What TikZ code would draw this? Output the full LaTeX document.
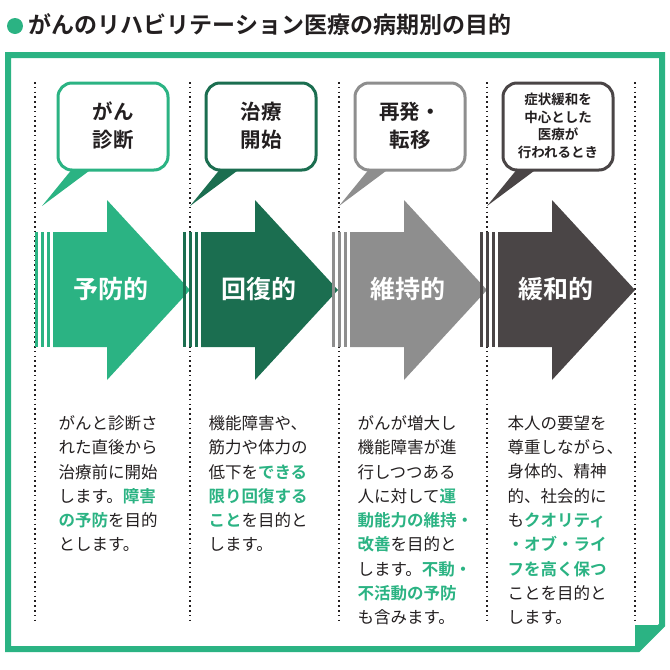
\documentclass[tikz,border=0pt]{standalone}
\usepackage{fontspec}
\setmainfont{Noto Sans CJK JP}
\newfontfamily\jpb{Noto Sans CJK JP Bold}
\newfontfamily\jp{Noto Sans CJK JP}
\definecolor{gA}{HTML}{2BB383}
\definecolor{gB}{HTML}{1B6E50}
\definecolor{gC}{HTML}{8E8E8E}
\definecolor{gD}{HTML}{4A4546}
\definecolor{txt}{HTML}{231F20}
\begin{document}
\begin{tikzpicture}[x=1pt,y=-1pt,
  bubble/.style={draw=#1,line width=3pt,fill=white,rounded corners=14pt},
  lbl/.style={text=white,font=\jpb\fontsize{25}{25}\selectfont},
  btxt/.style={text=txt,font=\jpb\fontsize{20.5}{28}\selectfont,align=center},
  body/.style={anchor=north west,text=txt,font=\jp\fontsize{16.5}{24.3}\selectfont,align=left},
  dots/.style={line width=1.6pt,dash pattern=on 1.6pt off 3.2pt,txt}]
\useasboundingbox (0,0) rectangle (670,670);
% title
\fill[gA] (15,26) circle (8);
\node[anchor=west,text=txt,font=\jpb\fontsize{23}{23}\selectfont] (title) at (25,25) {がんのリハビリテーション医療の病期別の目的};
% frame
\draw[gA,line width=6pt,line join=miter] (8,55) -- (662,55) -- (662,625) -- (638,649) -- (8,649) -- cycle;
\fill[gA] (635,625) -- (665,625) -- (635,652) -- cycle;
% dotted lines
\foreach \x in {35,190,339,487,635}
  \draw[dots] (\x,82) -- (\x,622);
% arrows
\foreach \x/\c/\t [count=\i] in {35/gA/予防的,183/gB/回復的,332/gC/維持的,480/gD/緩和的}{
  \fill[\c] (\x,232) rectangle ++(3,115);
  \fill[\c] (\x+6,232) rectangle ++(3,115);
  \fill[\c] (\x+12,232) rectangle ++(3,115);
  \fill[\c] (\x+18,232) -- (\x+72,232) -- (\x+72,200) -- (\x+155,290) -- (\x+72,380) -- (\x+72,347) -- (\x+18,347) -- cycle;
  \node[lbl] (arr\i) at (\x+76,289) {\t};
  % bubble tail
  \fill[\c] (\x+38,168) -- (\x+7,206) -- (\x+58,168) -- cycle;
  \draw[bubble=\c] (\x+23,83) rectangle (\x+133,170);
}
\node[btxt] (b1) at (35+78,126) {がん\\診断};
\node[btxt] (b2) at (183+78,126) {治療\\開始};
\node[btxt] (b3) at (332+78,126) {再発・\\転移};
\node[text=txt,font=\jpb\fontsize{13.5}{17.5}\selectfont,align=center] (b4) at (480+78,126) {症状緩和を\\中心とした\\医療が\\行われるとき};
% body texts
\newcommand\hl[1]{{\jpb\color{gA}#1}}
\node[body] (t1) at (55,412) {がんと診断さ\\れた直後から\\治療前に開始\\します。\hl{障害}\\\hl{の予防}を目的\\とします。};
\node[body] (t2) at (205,412) {機能障害や、\\筋力や体力の\\低下を\hl{できる}\\\hl{限り回復する}\\\hl{こと}を目的と\\します。};
\node[body] (t3) at (354,412) {がんが増大し\\機能障害が進\\行しつつある\\人に対して\hl{運}\\\hl{動能力の維持・}\\\hl{改善}を目的と\\します。\hl{不動・}\\\hl{不活動の予防}\\も含みます。};
\node[body] (t4) at (504,412) {本人の要望を\\尊重しながら、\\身体的、精神\\的、社会的に\\も\hl{クオリティ}\\\hl{・オブ・ライ}\\\hl{フを高く保つ}\\ことを目的と\\します。};
\end{tikzpicture}
\end{document}
